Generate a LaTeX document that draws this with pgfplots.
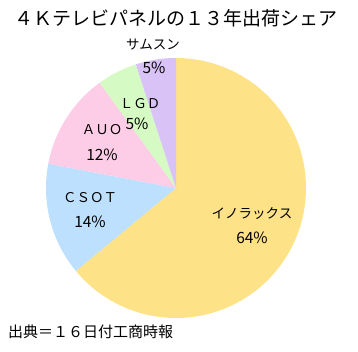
\documentclass[border=0pt]{standalone}
\usepackage{fontspec}
\setmainfont{Noto Sans CJK JP}
\usepackage{pgfplots}
\pgfplotsset{compat=1.18}
\definecolor{cY}{RGB}{253,226,135}
\definecolor{cB}{RGB}{189,224,254}
\definecolor{cP}{RGB}{253,204,230}
\definecolor{cG}{RGB}{213,250,196}
\definecolor{cV}{RGB}{217,194,246}
\begin{document}
\begin{tikzpicture}[x=1pt,y=1pt]
\path[use as bounding box] (0,0) rectangle (358,351);
\begin{axis}[at={(176pt,163pt)}, anchor=origin, scale only axis,
  width=260pt, height=260pt, xmin=-1, xmax=1, ymin=-1, ymax=1,
  hide axis, clip=false]
% shares: 64, 14, 12, 5, 5 (clockwise from top)
\addplot[fill=cY, draw=none, domain=-140.4:90, samples=150, variable=\t] ({cos(\t)},{sin(\t)}) -- (axis cs:0,0) -- cycle;
\addplot[fill=cB, draw=none, domain=-190.8:-140.4, samples=40, variable=\t] ({cos(\t)},{sin(\t)}) -- (axis cs:0,0) -- cycle;
\addplot[fill=cP, draw=none, domain=-234:-190.8, samples=40, variable=\t] ({cos(\t)},{sin(\t)}) -- (axis cs:0,0) -- cycle;
\addplot[fill=cG, draw=none, domain=-252:-234, samples=20, variable=\t] ({cos(\t)},{sin(\t)}) -- (axis cs:0,0) -- cycle;
\addplot[fill=cV, draw=none, domain=-270:-252, samples=20, variable=\t] ({cos(\t)},{sin(\t)}) -- (axis cs:0,0) -- cycle;
\end{axis}
\begin{scope}[every node/.style={font=\fontsize{13.5}{15}\selectfont, inner sep=0pt}]
\node at (153,306) {サムスン};
\node at (140,247) {ＬＧＤ};
\node at (102,221) {ＡＵＯ};
\node at (90,153) {ＣＳＯＴ};
\node at (252,137) {イノラックス};
\end{scope}
\begin{scope}[every node/.style={font=\fontsize{15.5}{17}\selectfont, inner sep=0pt}]
\node at (154,283) {5\%};
\node at (137,227) {5\%};
\node at (102,196) {12\%};
\node at (90,129) {14\%};
\node at (252,113) {64\%};
\end{scope}
\node[font=\fontsize{19}{21}\selectfont, inner sep=0pt] at (176,333) {４Ｋテレビパネルの１３年出荷シェア};
\node[font=\fontsize{15}{17}\selectfont, inner sep=0pt, anchor=west] at (8,19) {出典＝１６日付工商時報};
\end{tikzpicture}
\end{document}
